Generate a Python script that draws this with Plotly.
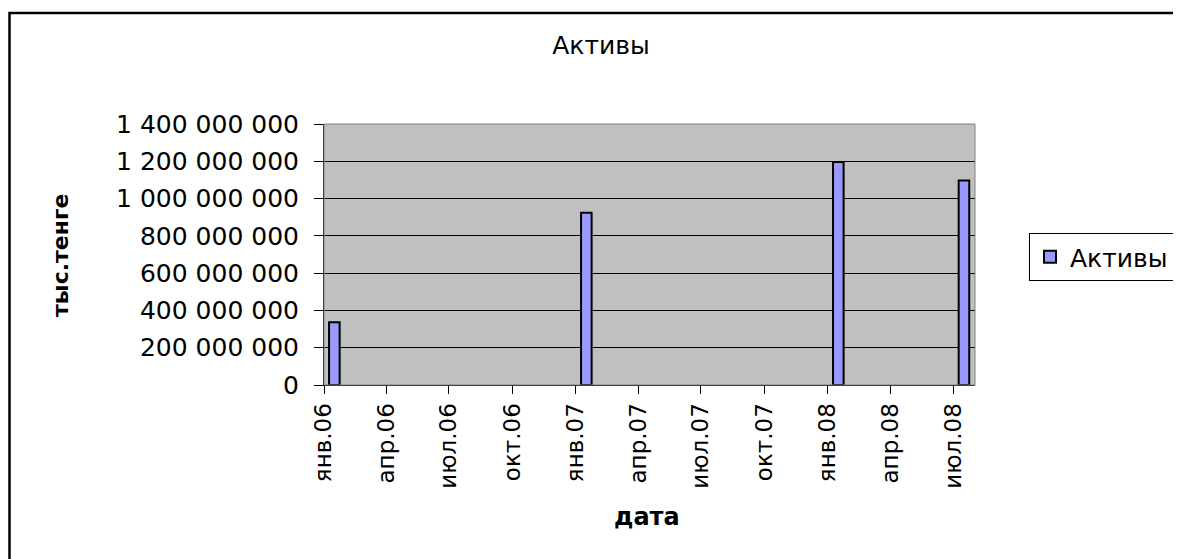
import plotly.graph_objects as go

# data
dates = ["2006-01-16", "2007-01-16", "2008-01-16", "2008-07-16"]
assets = [337_000_000, 924_000_000, 1_196_000_000, 1_097_000_000]

tick_dates = ["2006-01-01", "2006-04-01", "2006-07-01", "2006-10-01",
              "2007-01-01", "2007-04-01", "2007-07-01", "2007-10-01",
              "2008-01-01", "2008-04-01", "2008-07-01"]
tick_labels = ["янв.06", "апр.06", "июл.06", "окт.06",
               "янв.07", "апр.07", "июл.07", "окт.07",
               "янв.08", "апр.08", "июл.08"]

FONT = "DejaVu Sans"
DAY_MS = 86400000
# page body adds an 8px offset, so figure coords = screen coords - 8
L, T, PW, PH = 316, 116, 651, 261

fig = go.Figure()
fig.add_trace(go.Bar(
    x=dates, y=assets, name="Активы",
    width=[15.3 * DAY_MS] * len(dates),
    marker=dict(color="#9999FF", line=dict(color="black", width=2)),
))

fig.update_layout(
    width=1181, height=559,
    margin=dict(l=L, r=1181 - L - PW, t=T, b=559 - T - PH),
    paper_bgcolor="white", plot_bgcolor="#C0C0C0",
    font=dict(family=FONT, size=22, color="black"),
    separators=", ",
    showlegend=True,
    title=dict(text="Активы", x=593 / 1181, xanchor="center",
               y=1 - 37 / 559, yanchor="middle",
               font=dict(family=FONT, size=25)),
    legend=dict(x=(1021 - L) / PW, y=(T + PH - 225) / PH,
                xanchor="left", yanchor="top",
                bordercolor="black", borderwidth=1, bgcolor="white",
                font=dict(family=FONT, size=25)),
)

fig.update_xaxes(
    type="date", range=["2006-01-01", "2008-08-01"],
    tickvals=tick_dates, ticktext=tick_labels, tickangle=-90,
    ticks="outside", ticklen=8, tickcolor="black",
    showline=True, linecolor="black", linewidth=1,
    showgrid=False, zeroline=False,
    tickfont=dict(family=FONT, size=23),
)
fig.update_yaxes(
    range=[0, 1_400_000_000], dtick=200_000_000, tickformat=",d",
    ticks="outside", ticklen=9, tickcolor="black", ticklabelstandoff=10,
    showline=True, linecolor="black", linewidth=1,
    showgrid=True, gridcolor="black", gridwidth=1, zeroline=False,
    tickfont=dict(family=FONT, size=25),
)

# gray frame around the plot area (top/right)
fig.add_shape(type="rect", xref="paper", yref="paper", x0=0, x1=1, y0=0, y1=1,
              line=dict(color="#808080", width=1), layer="above")
# outer chart border (right and bottom edges fall outside the picture)
fig.add_shape(type="rect", xref="paper", yref="paper",
              x0=(1.5 - L) / PW, x1=(1195 - L) / PW,
              y0=(T + PH - 580) / PH, y1=(T + PH - 5) / PH,
              line=dict(color="black", width=2.5))

fig.add_annotation(text="<b>тыс.тенге</b>", textangle=-90, showarrow=False,
                   xref="paper", yref="paper", x=(52 - L) / PW, y=(T + PH - 248) / PH,
                   xanchor="center", yanchor="middle",
                   font=dict(family=FONT, size=22))
fig.add_annotation(text="<b>дата</b>", showarrow=False,
                   xref="paper", yref="paper", x=(639 - L) / PW,
                   y=(T + PH - 509) / PH, xanchor="center", yanchor="middle",
                   font=dict(family=FONT, size=24))

fig.write_html("out.html")
